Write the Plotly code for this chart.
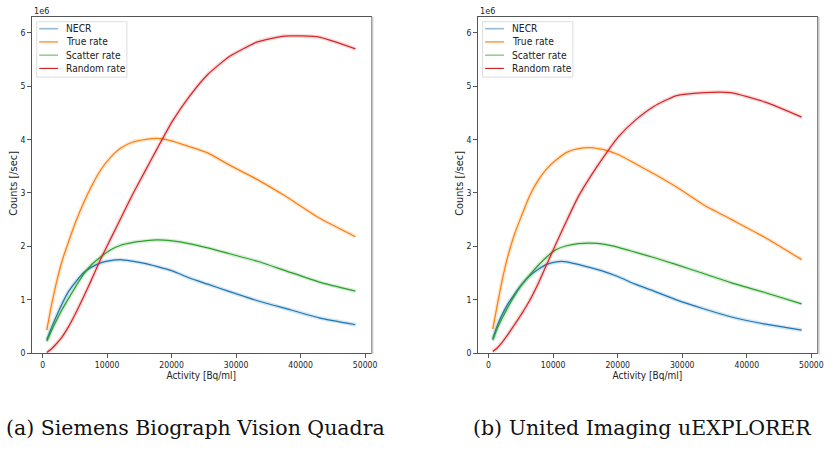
import plotly.graph_objects as go

# Activity [Bq/ml]
activity = [650, 1300, 2100, 3000, 4000, 5100, 6300, 7600, 9000, 10500, 12100,
            13900, 15800, 17800, 20100, 22700, 25600, 29000, 33300, 37500, 42900, 48500]

# Counts [/sec] in units of 1e6 -- (a) Siemens Biograph Vision Quadra
quadra_necr = [0.25, 0.45, 0.68, 0.92, 1.15, 1.33, 1.50, 1.61, 1.69, 1.73, 1.75,
               1.72, 1.68, 1.62, 1.54, 1.41, 1.29, 1.15, 0.98, 0.84, 0.66, 0.53]
quadra_true = [0.43, 0.85, 1.30, 1.72, 2.08, 2.45, 2.80, 3.13, 3.43, 3.66, 3.84,
               3.95, 4.00, 4.02, 3.97, 3.87, 3.75, 3.52, 3.25, 2.95, 2.53, 2.18]
quadra_scatter = [0.22, 0.40, 0.60, 0.81, 1.02, 1.24, 1.47, 1.66, 1.80, 1.93, 2.02,
                  2.07, 2.10, 2.12, 2.10, 2.05, 1.97, 1.86, 1.72, 1.55, 1.33, 1.16]
quadra_random = [0.01, 0.07, 0.17, 0.30, 0.49, 0.74, 1.04, 1.38, 1.76, 2.13, 2.52,
                 2.96, 3.39, 3.84, 4.34, 4.80, 5.22, 5.56, 5.83, 5.94, 5.92, 5.70]

# (b) United Imaging uEXPLORER
uexp_necr = [0.27, 0.50, 0.72, 0.92, 1.10, 1.28, 1.44, 1.56, 1.66, 1.71, 1.71,
             1.66, 1.60, 1.53, 1.43, 1.29, 1.16, 1.00, 0.83, 0.68, 0.54, 0.43]
uexp_true = [0.45, 0.87, 1.36, 1.82, 2.22, 2.57, 2.93, 3.22, 3.45, 3.62, 3.76,
             3.83, 3.85, 3.81, 3.72, 3.55, 3.36, 3.12, 2.78, 2.51, 2.16, 1.75]
uexp_scatter = [0.24, 0.45, 0.65, 0.86, 1.07, 1.27, 1.45, 1.63, 1.80, 1.94, 2.01,
                2.05, 2.06, 2.04, 1.98, 1.89, 1.79, 1.66, 1.49, 1.32, 1.13, 0.92]
uexp_random = [0.03, 0.09, 0.20, 0.35, 0.53, 0.73, 0.97, 1.28, 1.66, 2.06, 2.48,
               2.93, 3.31, 3.67, 4.05, 4.36, 4.62, 4.82, 4.88, 4.88, 4.70, 4.42]

series_names = ["NECR", "True rate", "Scatter rate", "Random rate"]
colors = ["#1f77b4", "#ff7f0e", "#2ca02c", "#d62728"]
legend_colors = ["#8fbbd9", "#ff7f0e", "#96cf96", "#d62728"]
captions = ["(a) Siemens Biograph Vision Quadra", "(b) United Imaging uEXPLORER"]
xticks = [0, 10000, 20000, 30000, 40000, 50000]
yticks = [0, 1, 2, 3, 4, 5, 6]

panels = [
    [quadra_necr, quadra_true, quadra_scatter, quadra_random],
    [uexp_necr, uexp_true, uexp_scatter, uexp_random],
]

W, H = 834, 450
SANS = "DejaVu Sans Condensed, DejaVu Sans"
fig = go.Figure()

px_x = [(32, 374), (481.7, 824)]
y_top, y_bot = 17, 357

for p, data in enumerate(panels):
    xa = "x" if p == 0 else "x2"
    ya = "y" if p == 0 else "y2"
    for s, vals in enumerate(data):
        fig.add_trace(go.Scatter(x=activity, y=vals, mode="lines", xaxis=xa, yaxis=ya,
                                 line=dict(color=colors[s], width=4, shape="spline", smoothing=0.5),
                                 opacity=0.18, showlegend=False, hoverinfo="skip"))
        fig.add_trace(go.Scatter(x=activity, y=vals, mode="lines", xaxis=xa, yaxis=ya,
                                 name=series_names[s],
                                 line=dict(color=colors[s], width=1.25, shape="spline", smoothing=0.5),
                                 showlegend=False))

axis_common = dict(showline=True, mirror=True, linecolor="#555", linewidth=1,
                   ticks="outside", ticklen=3.5, tickcolor="#555", tickwidth=1,
                   showgrid=False, zeroline=False,
                   tickfont=dict(family=SANS, size=8.6, color="#222"))

layout = dict(width=W, height=H, margin=dict(l=0, r=0, t=0, b=0),
              plot_bgcolor="white", paper_bgcolor="white", showlegend=False)

shapes = []
annotations = []
for p in range(2):
    x0, x1 = px_x[p]
    sfx = "" if p == 0 else "2"
    layout["xaxis" + sfx] = dict(axis_common, domain=[x0 / W, x1 / W], range=[-1690, 50890],
                                 tickvals=xticks, ticktext=[str(v) for v in xticks],
                                 anchor="y" + sfx,
                                 title=dict(text="Activity [Bq/ml]", standoff=1,
                                            font=dict(family=SANS, size=10, color="#222")))
    layout["yaxis" + sfx] = dict(axis_common, domain=[1 - y_bot / H, 1 - y_top / H], range=[0, 6.3],
                                 tickvals=yticks, ticktext=[str(v) for v in yticks],
                                 anchor="x" + sfx)
    # y-axis title
    annotations.append(dict(text="Counts [/sec]", xref="paper", yref="paper",
                            x=(x0 - 18) / W, y=1 - 185 / H, textangle=-90,
                            xanchor="center", yanchor="middle", showarrow=False,
                            font=dict(family="DejaVu Sans", size=9.8, color="#222")))
    # light gray edge to the right of the frame
    shapes.append(dict(type="rect", xref="paper", yref="paper",
                       x0=(x1 + 0.5) / W, x1=(x1 + 2.5) / W, y0=1 - (y_bot + 1) / H, y1=1 - y_top / H,
                       fillcolor="#c8c8c8", line=dict(width=0), layer="above"))
    # 1e6 offset label
    annotations.append(dict(text="1e6", xref="paper", yref="paper", x=x0 / W, y=1 - 11 / H,
                            xanchor="left", yanchor="middle", showarrow=False,
                            font=dict(family=SANS, size=9, color="#222")))
    # legend box
    lx0, ly0 = x0 + 5, y_top + 5
    shapes.append(dict(type="rect", xref="paper", yref="paper",
                       x0=lx0 / W, x1=(lx0 + 91) / W, y0=1 - (ly0 + 56) / H, y1=1 - ly0 / H,
                       fillcolor="rgba(255,255,255,0.8)", line=dict(color="#dddddd", width=1),
                       layer="above"))
    for s in range(4):
        yy = ly0 + 7 + s * 13.4
        shapes.append(dict(type="line", xref="paper", yref="paper",
                           x0=(lx0 + 2.5) / W, x1=(lx0 + 21.5) / W, y0=1 - yy / H, y1=1 - yy / H,
                           line=dict(color=legend_colors[s], width=1.6 if s in (0, 2) else 1.2),
                           layer="above"))
        annotations.append(dict(text=series_names[s], xref="paper", yref="paper",
                                x=(lx0 + 28) / W, y=1 - yy / H, xanchor="left", yanchor="middle",
                                showarrow=False,
                                font=dict(family=SANS, size=10.2, color="#222")))
    # caption
    annotations.append(dict(text=captions[p], xref="paper", yref="paper",
                            x=(197.5 if p == 0 else 647) / W, y=1 - 433 / H,
                            xanchor="center", yanchor="middle", showarrow=False,
                            font=dict(family="DejaVu Serif", size=20.5, color="#111")))

layout["shapes"] = shapes
layout["annotations"] = annotations
fig.update_layout(**layout)
fig.write_html("out.html")
